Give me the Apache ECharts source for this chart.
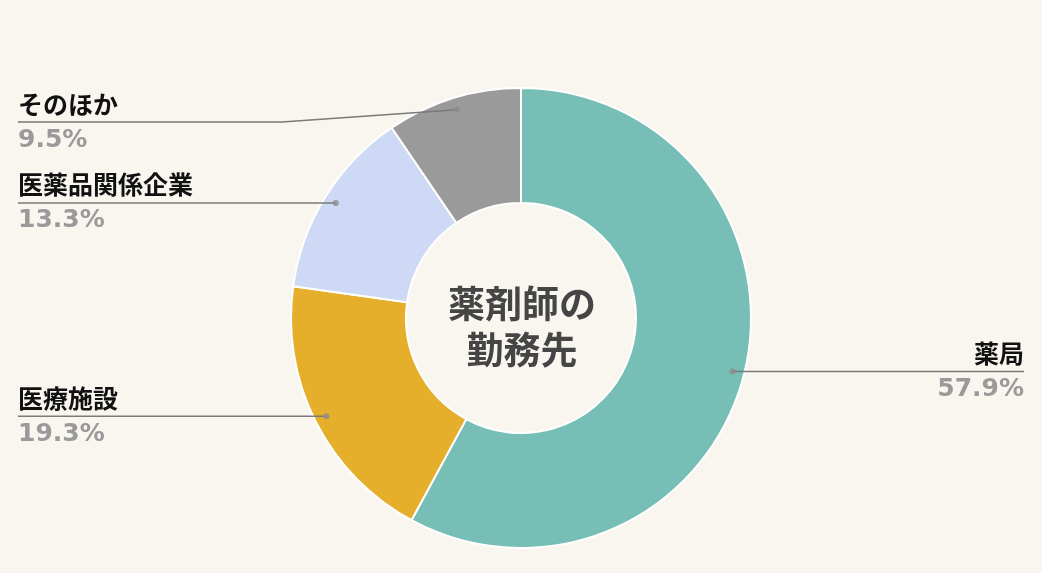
<!DOCTYPE html>
<html><head><meta charset="utf-8">
<script src="https://cdn.jsdelivr.net/npm/echarts@6/dist/echarts.min.js"></script>
<style>html,body{margin:0;padding:0;background:#f9f6f0}#main{width:1042px;height:573px}</style>
</head><body><div id="main"></div>
<script>
const categories = ['薬局', '医療施設', '医薬品関係企業', 'そのほか'];
const shares = [57.9, 19.3, 13.3, 9.5];
const sliceColors = ['#76beb6', '#e5af2b', '#cdd9f5', '#9a9a9a'];
const centerTitle = '薬剤師の\n勤務先';

const CENTER_Y = 318, R_OUT = 230, R_IN = 115;
const DOT_R = 218, MIN_LINE_Y = 122, BEND = 175;

const chart = echarts.init(document.getElementById('main'));
const total = shares.reduce((a, b) => a + b, 0);
let acc = 0;
const dotData = shares.map(v => { const mid = acc + v / 2; acc += v; return [DOT_R, mid / total * 100]; });

const pieBase = {
  type: 'pie',
  center: ['50%', CENTER_Y],
  radius: [R_IN, R_OUT],
  startAngle: 90,
  clockwise: true,
  silent: true
};

chart.setOption({
  backgroundColor: '#f9f6f0',
  animation: false,
  graphic: [{
    type: 'text', x: 522, y: CENTER_Y + 9, silent: true,
    style: {
      text: centerTitle, textAlign: 'center', textVerticalAlign: 'middle',
      fill: '#454545', fontSize: 37, fontWeight: 'bold', lineHeight: 46,
      fontFamily: '"Noto Sans CJK JP", sans-serif'
    }
  }],
  polar: { center: ['50%', CENTER_Y], radius: R_OUT },
  angleAxis: { type: 'value', min: 0, max: 100, startAngle: 90, clockwise: true, show: false },
  radiusAxis: { type: 'value', min: 0, max: R_OUT, show: false },
  series: [Object.assign({}, pieBase, {
    z: 1,
    itemStyle: { borderColor: '#ffffff', borderWidth: 2 },
    data: categories.map((c, i) => ({ name: c, value: shares[i], itemStyle: { color: sliceColors[i] } })),
    label: { show: false },
    labelLine: { show: false }
  }), Object.assign({}, pieBase, {
    z: 3,
    itemStyle: { color: 'rgba(0,0,0,0)', borderWidth: 0 },
    data: categories.map((c, i) => ({ name: c, value: shares[i] })),
    label: {
      show: true,
      position: 'outer',
      alignTo: 'edge',
      edgeDistance: 18,
      formatter: '{name|{b}}\n{pct|{c}%}',
      rich: {
        name: { fontFamily: '"Noto Sans CJK JP", sans-serif', fontWeight: 'bold', fontSize: 25, color: '#111111', lineHeight: 40 },
        pct: { fontFamily: '"DejaVu Sans", sans-serif', fontWeight: 'bold', fontSize: 25, color: '#9a9a9a', lineHeight: 32 }
      }
    },
    labelLine: { show: true, showAbove: true, length: 15, length2: 0, lineStyle: { color: '#7a7a7a', width: 1.5 } },
    labelLayout: function (params) {
      const pts = params.labelLinePoints;
      if (!pts) return {};
      const p0 = pts[0], p1 = pts[1];
      let ux = p1[0] - p0[0], uy = p1[1] - p0[1];
      const len = Math.hypot(ux, uy) || 1;
      ux /= len; uy /= len;
      const inset = R_OUT - DOT_R;
      const dot = [p0[0] - ux * inset, p0[1] - uy * inset];
      const lineY = Math.max(dot[1], MIN_LINE_Y);
      const rect = params.labelRect;
      const isLeft = dot[0] < chart.getWidth() / 2;
      const edgeX = isLeft ? rect.x : rect.x + rect.width;
      const bendX = Math.abs(dot[1] - lineY) < 0.5 ? dot[0] : dot[0] + (isLeft ? -BEND : BEND);
      return {
        dy: lineY - (rect.y + rect.height / 2),
        labelLinePoints: [dot, [bendX, lineY], [edgeX, lineY]]
      };
    }
  }), {
    type: 'scatter',
    coordinateSystem: 'polar',
    data: dotData,
    symbol: 'circle',
    symbolSize: 6,
    itemStyle: { color: '#8c8c8c' },
    silent: true,
    z: 5
  }]
});
</script></body></html>
